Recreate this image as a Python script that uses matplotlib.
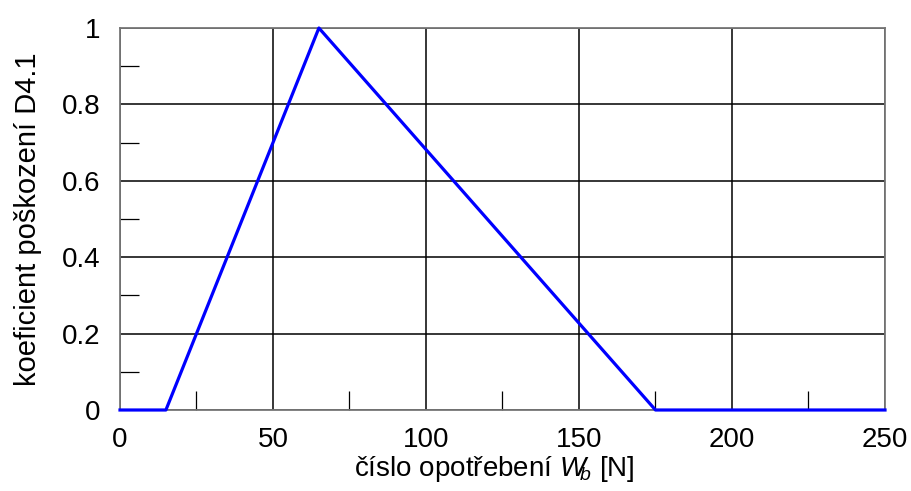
import matplotlib
matplotlib.use("Agg")
import matplotlib.pyplot as plt
from matplotlib.ticker import MultipleLocator

plt.rcParams['font.family'] = ['Liberation Sans', 'DejaVu Sans']
plt.rcParams['mathtext.fontset'] = 'custom'
plt.rcParams['mathtext.it'] = 'Liberation Sans:italic'
plt.rcParams['mathtext.rm'] = 'Liberation Sans'

x_vals = [0, 15, 65, 175, 250]
y_vals = [0, 0, 1, 0, 0]

fig = plt.figure(figsize=(9.12, 4.91), dpi=100)
ax = fig.add_axes([120/912, 1-410/491, (885-120)/912, (410-28)/491])
ax.plot(x_vals, y_vals, color='#0000ff', lw=2.3, clip_on=False, zorder=5)
ax.set_xlim(0, 250)
ax.set_ylim(0, 1)
ax.xaxis.set_major_locator(MultipleLocator(50))
ax.xaxis.set_minor_locator(MultipleLocator(25))
ax.yaxis.set_minor_locator(MultipleLocator(0.1))
ax.set_yticks([0, 0.2, 0.4, 0.6, 0.8, 1.0])
ax.set_yticklabels(['0', '0.2', '0.4', '0.6', '0.8', '1'])
ax.grid(True, which='major', color='black', lw=1.1)
ax.tick_params(which='major', length=0, labelsize=20)
ax.tick_params(axis='x', which='major', pad=12)
ax.tick_params(axis='y', which='major', pad=14)
ax.tick_params(which='minor', direction='in', length=14, width=0.9, color='black')
for s in ax.spines.values():
    s.set_color('#777777')
    s.set_linewidth(1.3)
ax.set_xlabel(r'číslo opotřebení $W_{\!\!b}$ [N]', fontsize=20, labelpad=1)
ax.xaxis.label.set_x(0.49)
ax.set_ylabel('koeficient poškození D4.1', fontsize=21, labelpad=14)
fig.savefig('out.png', dpi=100)
